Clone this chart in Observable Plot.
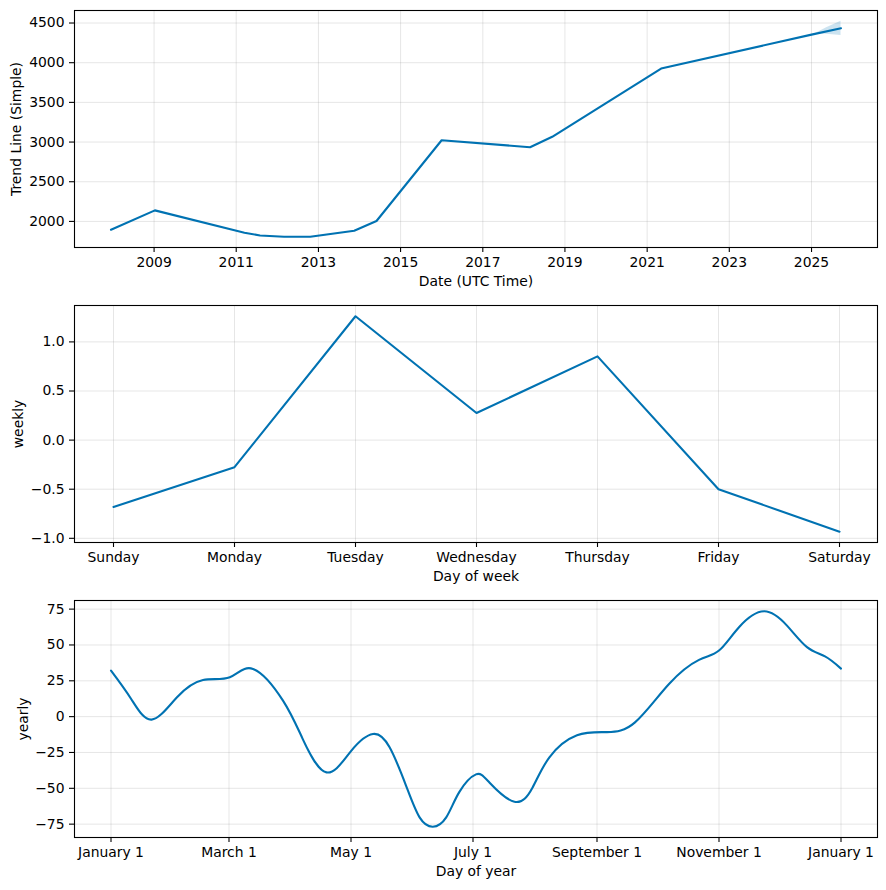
<!DOCTYPE html>
<html>
<head>
<meta charset="utf-8">
<script src="https://cdn.jsdelivr.net/npm/d3@7"></script>
<script src="https://cdn.jsdelivr.net/npm/@observablehq/plot@0.6"></script>
<style>
  html, body { margin: 0; padding: 0; background: #fff; }
  #chart { width: 886px; height: 890px; }
  #chart svg { display: block; }
</style>
</head>
<body>
<div id="chart"></div>
<script>
// ---------- Panel 1: trend ----------
const trendDates = ["2007-12-15","2009-01-08","2011-03-15","2011-08-01","2012-03-01","2012-10-20","2013-11-15","2014-06-01","2016-01-01","2018-02-25","2018-09-10","2021-05-05","2025-01-01","2025-09-20"];
const trendValues = [1895, 2139, 1857, 1823, 1807, 1807, 1883, 2005, 3023, 2935, 3066, 3926, 4354, 4434];
const bandDates = ["2025-02-01", "2025-05-15", "2025-09-20"];
const bandLower = [4364, 4358, 4342];
const bandUpper = [4364, 4440, 4522];
const yearTicks = [2009, 2011, 2013, 2015, 2017, 2019, 2021, 2023, 2025];
const trendYTicks = [2000, 2500, 3000, 3500, 4000, 4500];

// ---------- Panel 2: weekly ----------
const weekDays = ["Sunday","Monday","Tuesday","Wednesday","Thursday","Friday","Saturday"];
const weeklyValues = [-0.681, -0.276, 1.261, 0.276, 0.853, -0.500, -0.933];
const weeklyYTicks = [-1.0, -0.5, 0.0, 0.5, 1.0];

// ---------- Panel 3: yearly ----------
const yearlyDays = [0, 10, 20.3, 33, 46, 59.4, 71, 86, 96, 107.7, 120, 131, 139.3, 147.6, 154.3, 160.9, 167.6, 174.2, 182.5, 189.2, 201.7, 210.8, 219.2, 233, 248, 262, 279, 294, 304, 314, 326.5, 338, 348, 357, 365];
const yearlyValues = [32.1, 12.5, -2.1, 13.5, 25.5, 27.5, 33.3, 11.2, -16.0, -38.9, -24.0, -12.1, -21.4, -48.4, -70.3, -76.8, -70.3, -52.5, -40.3, -45.9, -59.4, -49.4, -28.4, -13.0, -10.8, -4.0, 22.8, 39.6, 46.1, 62.4, 73.5, 63.5, 48.5, 42.0, 33.5];
const monthTickDays = [0, 59, 120, 181, 243, 304, 365];
const monthTickLabels = ["January 1","March 1","May 1","July 1","September 1","November 1","January 1"];
const yearlyYTicks = [-75, -50, -25, 0, 25, 50, 75];

// ---------- build ----------
const blue = "#0072B2";
const parse = d3.utcParse("%Y-%m-%d");
const minus = (s) => s.replace("-", "\u2212");

const trend = trendDates.map((d, i) => ({date: parse(d), value: trendValues[i]}));
const band = bandDates.map((d, i) => ({date: parse(d), lo: bandLower[i], hi: bandUpper[i]}));
const weekly = weekDays.map((d, i) => ({day: d, value: weeklyValues[i]}));
const yearly = yearlyDays.map((d, i) => ({day: d, value: yearlyValues[i]}));
const yearTickDates = yearTicks.map(y => new Date(Date.UTC(y, 0, 1)));

const common = {
  width: 886, height: 295,
  marginTop: 10, marginBottom: 48, marginLeft: 74, marginRight: 9,
  style: {fontFamily: "'DejaVu Sans', sans-serif", fontSize: "13.9px", color: "black", background: "white", overflow: "visible"}
};
const gridStyle = {stroke: "gray", strokeOpacity: 0.2, strokeWidth: 1};
const axisStyle = {tickSize: 5, tickPadding: 5, label: null, stroke: "black", strokeWidth: 1.1};

function labels(xLabel, yLabel, ydx) {
  return [
    Plot.text([xLabel], {frameAnchor: "bottom", dy: 29, lineAnchor: "top", textAnchor: "middle", text: d => d, fill: "black", fontSize: 13.9}),
    Plot.text([yLabel], {frameAnchor: "left", dx: ydx, rotate: -90, textAnchor: "middle", lineAnchor: "middle", text: d => d, fill: "black", fontSize: 13.9})
  ];
}

// date domain with 5% margins
const tExt = d3.extent(trend, d => +d.date);
const tPad = (tExt[1] - tExt[0]) * 0.05;
const yMin = Math.min(...trendValues), yMax = Math.max(...bandUpper);
const yPad = (yMax - yMin) * 0.05;

const p1 = Plot.plot({
  ...common,
  x: {type: "utc", domain: [new Date(tExt[0] - tPad), new Date(tExt[1] + tPad)]},
  y: {domain: [yMin - yPad, yMax + yPad]},
  marks: [
    Plot.gridX(yearTickDates, gridStyle),
    Plot.gridY(trendYTicks, gridStyle),
    Plot.areaY(band, {x: "date", y1: "lo", y2: "hi", fill: blue, fillOpacity: 0.2}),
    Plot.lineY(trend, {x: "date", y: "value", stroke: blue, strokeWidth: 2.1}),
    Plot.frame({stroke: "black", strokeWidth: 1.1}),
    Plot.axisX(yearTickDates, {...axisStyle, tickFormat: d => String(d.getUTCFullYear())}),
    Plot.axisY(trendYTicks, {...axisStyle, tickFormat: d => String(d)}),
    ...labels("Date (UTC Time)", "Trend Line (Simple)", -58)
  ]
});

const wMin = Math.min(...weeklyValues), wMax = Math.max(...weeklyValues);
const wPad = (wMax - wMin) * 0.05;
const p2 = Plot.plot({
  ...common,
  x: {type: "point", domain: weekDays, padding: 0.3, align: 0.5},
  y: {domain: [wMin - wPad, wMax + wPad]},
  marks: [
    Plot.gridX(weekDays, gridStyle),
    Plot.gridY(weeklyYTicks, gridStyle),
    Plot.lineY(weekly, {x: "day", y: "value", stroke: blue, strokeWidth: 2.1}),
    Plot.frame({stroke: "black", strokeWidth: 1.1}),
    Plot.axisX(weekDays, {...axisStyle}),
    Plot.axisY(weeklyYTicks, {...axisStyle, tickFormat: d => minus(d.toFixed(1))}),
    ...labels("Day of week", "weekly", -56)
  ]
});

const aMin = Math.min(...yearlyValues), aMax = Math.max(...yearlyValues);
const aPad = (aMax - aMin) * 0.05;
const dPad = 365 * 0.05;
const p3 = Plot.plot({
  ...common,
  x: {domain: [-dPad, 365 + dPad]},
  y: {domain: [aMin - aPad, aMax + aPad]},
  marks: [
    Plot.gridX(monthTickDays, gridStyle),
    Plot.gridY(yearlyYTicks, gridStyle),
    Plot.lineY(yearly, {x: "day", y: "value", stroke: blue, strokeWidth: 2.1, curve: "natural"}),
    Plot.frame({stroke: "black", strokeWidth: 1.1}),
    Plot.axisX(monthTickDays, {...axisStyle, tickFormat: (d, i) => monthTickLabels[i]}),
    Plot.axisY(yearlyYTicks, {...axisStyle, tickFormat: d => minus(String(d))}),
    ...labels("Day of year", "yearly", -51)
  ]
});

const chart = document.getElementById("chart");
chart.append(p1, p2, p3);
</script>
</body>
</html>
